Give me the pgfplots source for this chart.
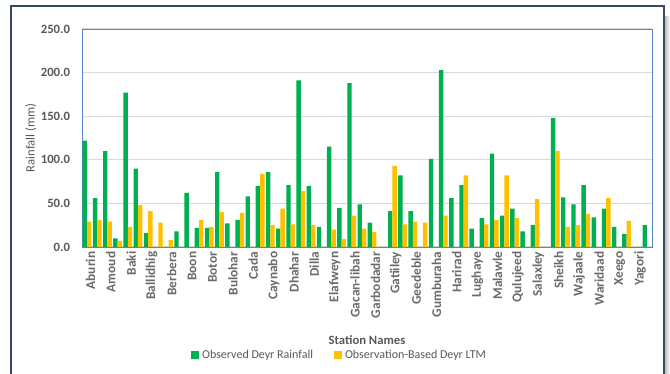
\documentclass[border=0pt]{standalone}
\usepackage{pgfplots}
\pgfplotsset{compat=1.18}
\usepackage{pgfplotstable}
\usepackage{fontspec}
\setmainfont{Carlito}
\definecolor{obsgreen}{HTML}{00B050}
\definecolor{ltmyellow}{HTML}{FFC000}
\definecolor{txtgray}{HTML}{595959}
\definecolor{gridgray}{HTML}{D9D9D9}
\definecolor{plotblue}{HTML}{5B84C8}
\definecolor{framenavy}{HTML}{3A4868}

\pgfplotstableread{
x obs ltm
0 122 29
1 56 31
2 110 29
3 10 7
4 177 23
5 90 48
6 16 41
7 0 28
8 0 8
9 18 0
10 62 0
11 22 31
12 22 23
13 86 40
14 27 0
15 31 39
16 58 0
17 70 84
18 86 25
19 21 44
20 71 26
21 191 64
22 70 25
23 23 0
24 115 20
25 45 9
26 188 36
27 49 21
28 28 17
29 0 0
30 41 93
31 82 26
32 41 29
33 0 28
34 101 0
35 203 36
36 56 0
37 71 82
38 21 0
39 33 26
40 107 31
41 36 82
42 44 33
43 18 0
44 25 55
45 0 0
46 148 110
47 57 23
48 49 25
49 71 38
50 34 0
51 44 56
52 23 0
53 15 30
54 0 0
55 25 0
}\rain

\begin{document}
\begin{tikzpicture}
\useasboundingbox (0,0) rectangle (502.5pt,280.5pt);
\fill[white] (0,0) rectangle (502.5pt,280.5pt);
\shade[left color=gray!55, right color=white] (498.5pt,-5pt) rectangle (502.5pt,268pt);
\draw[framenavy, line width=1.1pt] (8.25pt,-5pt) -- (8.25pt,276pt) -- (498pt,276pt) -- (498pt,-5pt);
\begin{axis}[
  at={(61.5pt,95.25pt)}, anchor=south west,
  scale only axis, width=427.5pt, height=163.5pt,
  ybar=0pt, bar width=3.3pt,
  xmin=-0.5, xmax=55.5, ymin=0, ymax=250,
  xtick={0,2,...,54},
  xticklabels={Aburin,Amoud,Baki,Ballidhig,Berbera,Boon,Botor,Bulohar,Cada,Caynabo,Dhahar,Dilla,Elafweyn,Gacan-libah,Garbodadar,Gatiiley,Geedeble,Gumburaha,Harirad,Lughaye,Malawle,Qulujeed,Salaxley,Sheikh,Wajaale,Waridaad,Xeego,Yagori},
  ytick={0,50,...,250},
  major tick length=0pt,
  ymajorgrids, grid style={gridgray, line width=0.75pt},
  axis line style={plotblue, line width=0.6pt},
  /pgf/number format/assume math mode=true,
  yticklabel={\pgfmathprintnumber[fixed,fixed zerofill,precision=1]{\tick}},
  yticklabel style={font=\fontsize{9.5}{11}\selectfont\bfseries, text=txtgray, xshift=-5.5pt},
  xticklabel style={font=\fontsize{10}{12}\selectfont\bfseries, text=txtgray!90, rotate=90, anchor=east, yshift=-2.5pt},
  ylabel={Rainfall (mm)},
  ylabel style={font=\fontsize{9.5}{11}\selectfont, text=txtgray, at={(axis description cs:-0.0895,0.5)}, anchor=center},
  xlabel={Station Names},
  xlabel style={font=\fontsize{9.5}{11}\selectfont\bfseries, text=txtgray, at={(axis description cs:0.5,-0.4266)}, anchor=center},
  legend columns=2,
  legend style={at={(0.4526,-0.495)}, anchor=center, draw=none, fill=none,
    font=\fontsize{9}{11}\selectfont, text=txtgray,
    /tikz/every even column/.append style={column sep=14pt}},
  legend image code/.code={\fill[#1] (0pt,-3pt) rectangle (6pt,3pt);},
]
\addplot[fill=obsgreen, draw=none] table[x=x, y=obs] {\rain};
\addlegendentry{Observed Deyr Rainfall}
\addplot[fill=ltmyellow, draw=none] table[x=x, y=ltm] {\rain};
\addlegendentry{Observation-Based Deyr LTM}
\end{axis}
\end{tikzpicture}
\end{document}
